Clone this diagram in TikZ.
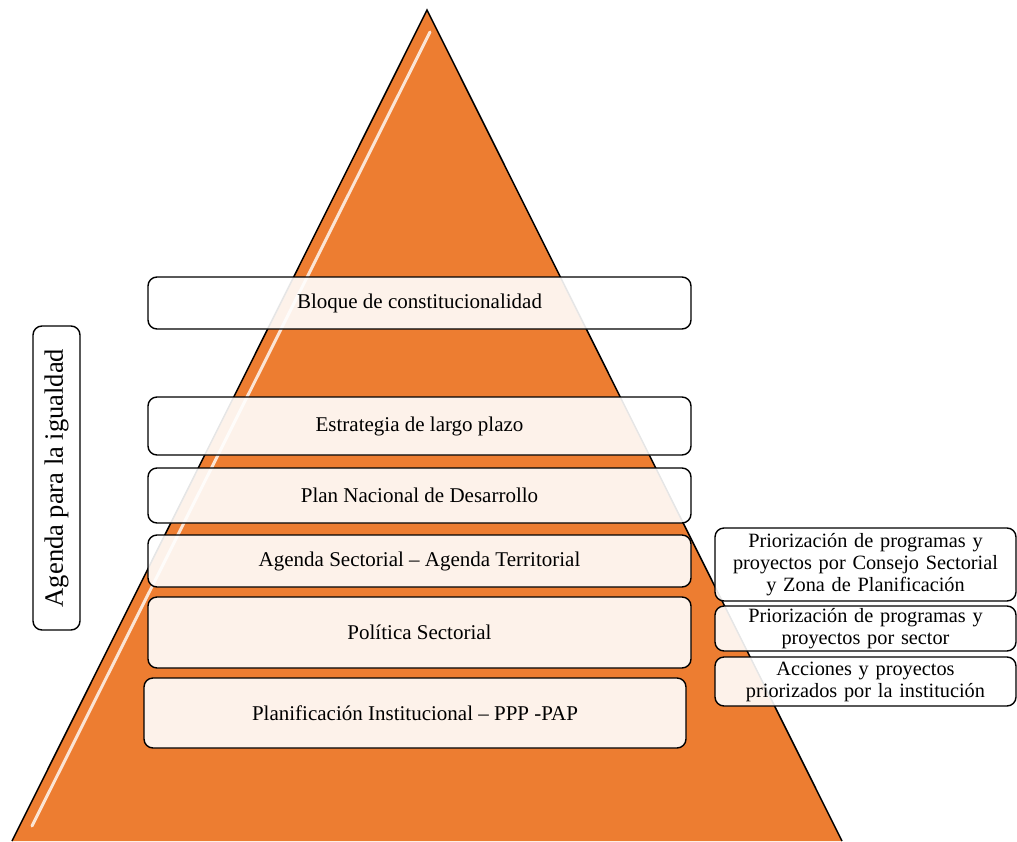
\documentclass[tikz,border=0pt]{standalone}
\usepackage{fontspec}
\setmainfont{Liberation Serif}
\usepackage{tikz}
\definecolor{pyramidorange}{HTML}{ED7D31}
\tikzstyle{tierbox}=[draw, line width=1.4pt, rounded corners=9pt, fill=white, fill opacity=0.9,
                     text opacity=1, inner sep=0, font=\fontsize{21}{22}\selectfont]
\tikzstyle{notebox}=[tierbox, align=center, text width=300pt, font=\fontsize{20.3}{22}\selectfont]
\tikzstyle{tallbox}=[tierbox, rotate=90, font=\fontsize{26.5}{28}\selectfont]

\begin{document}
\begin{tikzpicture}[x=1pt, y=-1pt]
        \useasboundingbox (0,0) rectangle (1017,841);
        % pyramid
        \coordinate (apex) at (427,10);
        \coordinate (baseL) at (12,841);
        \coordinate (baseR) at (842,841);
        \fill[pyramidorange] (apex) -- (baseR) -- (baseL) -- cycle;
        \draw[line width=1.5pt] (baseL) -- (apex) -- (baseR);
        \draw[white, opacity=0.8, line width=3pt, line cap=round] (430,32) -- (32,826);
        % levels
        \node[tierbox, minimum width=543pt, minimum height=52pt] (bloque) at (419.5,303) {Bloque de constitucionalidad};
        \node[tierbox, minimum width=543pt, minimum height=58pt] (estrategia) at (419.5,426) {Estrategia de largo plazo};
        \node[tierbox, minimum width=543pt, minimum height=55pt] (pnd) at (419.5,495.5) {Plan Nacional de Desarrollo};
        \node[tierbox, minimum width=543pt, minimum height=52pt] (agenda) at (419.5,561) {Agenda Sectorial -- Agenda Territorial};
        \node[tierbox, minimum width=543pt, minimum height=71pt] (politica) at (419.5,632.5) {Política Sectorial};
        \node[tierbox, minimum width=542pt, minimum height=70pt] (planif) at (415,713) {Planificación Institucional -- PPP -PAP};
        % priorities
        \node[notebox, minimum width=301pt, minimum height=73pt] (priozona) at (865.5,564.5) {Priorización de programas y\\proyectos por Consejo Sectorial\\y Zona de Planificación};
        \node[notebox, minimum width=301pt, minimum height=45pt] (priosector) at (865.5,628.5) {Priorización de programas y\\proyectos por sector};
        \node[notebox, minimum width=301pt, minimum height=49pt] (prioinst) at (865.5,681.5) {Acciones y proyectos\\priorizados por la institución};
        % side label
        \node[tallbox, minimum width=304pt, minimum height=47pt] (igualdad) at (56.5,478) {Agenda para la igualdad};
    \end{tikzpicture}
\end{document}
